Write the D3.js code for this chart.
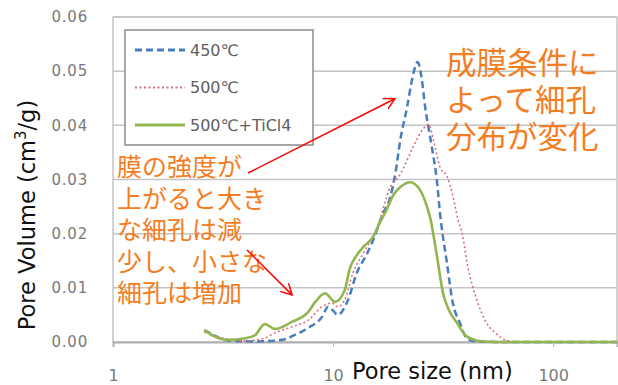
<!DOCTYPE html>
<html>
<head>
<meta charset="utf-8">
<script src="https://cdn.jsdelivr.net/npm/d3@7"></script>
<style>
  body { margin: 0; background: #fff; }
  svg { display: block; }
  .tick text { font-family: "DejaVu Sans", sans-serif; }
</style>
</head>
<body>
<div id="chart"></div>
<script>
// series: pore size (nm) and pore volume (cm3/g)
var size450 = [2.6, 2.8, 3.1, 3.5, 4.4, 5.2, 5.9, 6.7, 7.7, 8.9, 9.5, 10.0, 10.5, 11.7, 12.8, 14.3, 15.2, 16.9, 18.2, 19.2, 20.2, 21.7, 23.0, 24.2, 25.2, 26.2, 28.1, 29.6, 30.6, 32.9, 35.0, 37.7, 40.5, 45, 60, 100, 195];
var vol450  = [0.0022, 0.0015, 0.0006, 0.0002, 0.0001, 0.0002, 0.0004, 0.0013, 0.0026, 0.0046, 0.0065, 0.0058, 0.0050, 0.0078, 0.0127, 0.0164, 0.0188, 0.0238, 0.0268, 0.0312, 0.0373, 0.0434, 0.0490, 0.0517, 0.0490, 0.0434, 0.0360, 0.0299, 0.0238, 0.0146, 0.0072, 0.0035, 0.0007, 0.0001, 0, 0, 0];

var size500 = [2.6, 2.9, 3.3, 4.0, 4.8, 5.45, 6.5, 7.7, 8.9, 9.9, 10.5, 11.3, 12.3, 14.0, 15.8, 18.2, 20.2, 23.1, 25.5, 27.2, 28.5, 30.6, 33.0, 35.0, 37.0, 38.6, 41.0, 45.0, 49.0, 54.5, 58.0, 63.0, 70, 100, 195];
var vol500  = [0.0018, 0.0012, 0.0005, 0.0002, 0.0006, 0.0017, 0.0028, 0.0040, 0.0065, 0.0072, 0.0065, 0.0078, 0.0127, 0.0170, 0.0210, 0.0286, 0.0310, 0.0360, 0.0392, 0.0402, 0.0375, 0.0323, 0.0305, 0.0270, 0.0225, 0.0200, 0.0138, 0.0078, 0.0040, 0.0017, 0.0008, 0.0002, 0, 0, 0];

var sizeTi = [2.6, 2.9, 3.3, 4.0, 4.4, 4.9, 5.45, 6.5, 7.7, 8.3, 9.2, 10.2, 11.3, 11.9, 12.8, 13.7, 15.2, 16.3, 17.5, 18.7, 20.2, 22.4, 24.9, 26.7, 27.6, 29.6, 31.6, 33.5, 36.6, 40.0, 43.0, 48.0, 60, 100, 195];
var volTi  = [0.0022, 0.0010, 0.0004, 0.0007, 0.0012, 0.0033, 0.0024, 0.0037, 0.0055, 0.0074, 0.0090, 0.0074, 0.0096, 0.0135, 0.0160, 0.0175, 0.0194, 0.0220, 0.0244, 0.0270, 0.0286, 0.0295, 0.0280, 0.0250, 0.0230, 0.0160, 0.0090, 0.0060, 0.0035, 0.0012, 0.0005, 0.0001, 0, 0, 0];

var seriesNames = ["450℃", "500℃", "500℃+TiCl4"];
var yTicks = [0, 0.01, 0.02, 0.03, 0.04, 0.05, 0.06];
var xTicks = [1, 10, 100];

var noteLeft = ["膜の強度が", "上がると大き", "な細孔は減", "少し、小さな", "細孔は増加"];
var noteRight = ["成膜条件に", "よって細孔", "分布が変化"];
// arrows in data units [from nm, from vol, to nm, to vol]
var arrows = [[4.11, 0.0312, 19.1, 0.0449], [4.06, 0.0170, 6.51, 0.0087]];

var W = 618, H = 385;
var x = d3.scaleLog().domain([1, 195]).range([113, 617]);
var y = d3.scaleLinear().domain([0, 0.06]).range([342, 17]);

var svg = d3.select("#chart").append("svg").attr("width", W).attr("height", H);

// grid
svg.append("g").selectAll("line").data(yTicks.slice(1)).enter().append("line")
  .attr("x1", x(1)).attr("x2", x(195))
  .attr("y1", function(d){ return y(d); }).attr("y2", function(d){ return y(d); })
  .attr("stroke", "#c4c4c4").attr("stroke-width", 1.5);

// frame
svg.append("rect").attr("x", x(1)).attr("y", y(0.06))
  .attr("width", x(195) - x(1)).attr("height", y(0) - y(0.06))
  .attr("fill", "none").attr("stroke", "#c4c4c4").attr("stroke-width", 1.5);

// y axis labels
var yAxis = d3.axisLeft(y).tickValues(yTicks).tickFormat(d3.format(".2f")).tickSize(0).tickPadding(25);
var gy = svg.append("g").attr("transform", "translate(" + x(1) + ",0)").call(yAxis);
gy.select(".domain").remove();
gy.selectAll("text").attr("fill", "#7a7a7a").style("font-size", "15px").style("letter-spacing", "0.8px");

// x axis
var xAxis = d3.axisBottom(x).tickValues(xTicks).tickFormat(d3.format("d")).tickSize(5).tickPadding(23);
var gx = svg.append("g").attr("transform", "translate(0," + y(0) + ")").call(xAxis);
gx.select(".domain").attr("stroke", "#b0b0b0").attr("stroke-width", 2);
gx.selectAll("line").attr("stroke", "#b0b0b0");
gx.selectAll("text").attr("fill", "#7a7a7a").style("font-size", "16px");

// axis titles
svg.append("text").attr("x", 352).attr("y", 379)
  .style("font-family", "DejaVu Sans, sans-serif").style("font-size", "22.5px").attr("fill", "#111")
  .text("Pore size (nm)");
var yt = svg.append("text").attr("transform", "translate(35,215) rotate(-90)")
  .attr("text-anchor", "middle")
  .style("font-family", "DejaVu Sans, sans-serif").style("font-size", "22.5px").attr("fill", "#111");
yt.append("tspan").text("Pore Volume (cm");
yt.append("tspan").attr("dy", -9).style("font-size", "15px").text("3");
yt.append("tspan").attr("dy", 9).text("/g)");

// lines
var line = d3.line()
  .x(function(d){ return x(d[0]); })
  .y(function(d){ return y(d[1]); })
  .curve(d3.curveMonotoneX);

var series = [
  { pts: d3.zip(size450, vol450), color: "#4a7ebb", width: 2.5, dash: "7,4" },
  { pts: d3.zip(size500, vol500), color: "#d9707f", width: 1.6, dash: "2,2.5" },
  { pts: d3.zip(sizeTi, volTi), color: "#92b550", width: 2.6, dash: null }
];

svg.append("g").selectAll("path").data(series).enter().append("path")
  .attr("d", function(d){ return line(d.pts); })
  .attr("fill", "none")
  .attr("stroke", function(d){ return d.color; })
  .attr("stroke-width", function(d){ return d.width; })
  .attr("stroke-dasharray", function(d){ return d.dash; });

// legend
var lg = svg.append("g");
lg.append("rect").attr("x", 125).attr("y", 30).attr("width", 188).attr("height", 115)
  .attr("fill", "#fff").attr("stroke", "#8a8a8a").attr("stroke-width", 1.5);
series.forEach(function(s, i){
  var ly = 50 + i * 37.5;
  lg.append("line").attr("x1", 135).attr("x2", 185).attr("y1", ly).attr("y2", ly)
    .attr("stroke", s.color).attr("stroke-width", s.width + 0.5).attr("stroke-dasharray", s.dash);
  lg.append("text").attr("x", 190).attr("y", ly).attr("dy", "0.36em")
    .style("font-family", "DejaVu Sans, sans-serif").style("font-size", "16px").attr("fill", "#606060")
    .text(seriesNames[i]);
});

// annotations (one text element per block, one tspan per line)
var orange = "#f57d1f";
var tl = svg.append("text")
  .style("font-family", "Noto Sans CJK JP, sans-serif").style("font-size", "25px").attr("fill", orange);
tl.selectAll("tspan").data(noteLeft).enter().append("tspan")
  .attr("x", 117).attr("y", function(d, i){ return 176 + i * 31.5; })
  .text(String);
var tr = svg.append("text")
  .style("font-family", "Noto Sans CJK JP, sans-serif").style("font-size", "30.5px").attr("fill", orange);
tr.selectAll("tspan").data(noteRight).enter().append("tspan")
  .attr("x", 446).attr("y", function(d, i){ return 74 + i * 37; })
  .text(String);

svg.append("defs").append("marker").attr("id", "arr")
  .attr("viewBox", "0 0 12 12").attr("refX", 11).attr("refY", 6)
  .attr("markerWidth", 12).attr("markerHeight", 12).attr("markerUnits", "userSpaceOnUse")
  .attr("orient", "auto")
  .append("path").attr("d", "M0,0 L11,6 L0,12").attr("fill", "none").attr("stroke", "#f00").attr("stroke-width", 1.5);

svg.append("g").selectAll("line").data(arrows).enter().append("line")
  .attr("x1", function(d){ return x(d[0]); }).attr("y1", function(d){ return y(d[1]); })
  .attr("x2", function(d){ return x(d[2]); }).attr("y2", function(d){ return y(d[3]); })
  .attr("stroke", "#f00").attr("stroke-width", 1.5).attr("marker-end", "url(#arr)");
</script>
</body>
</html>
